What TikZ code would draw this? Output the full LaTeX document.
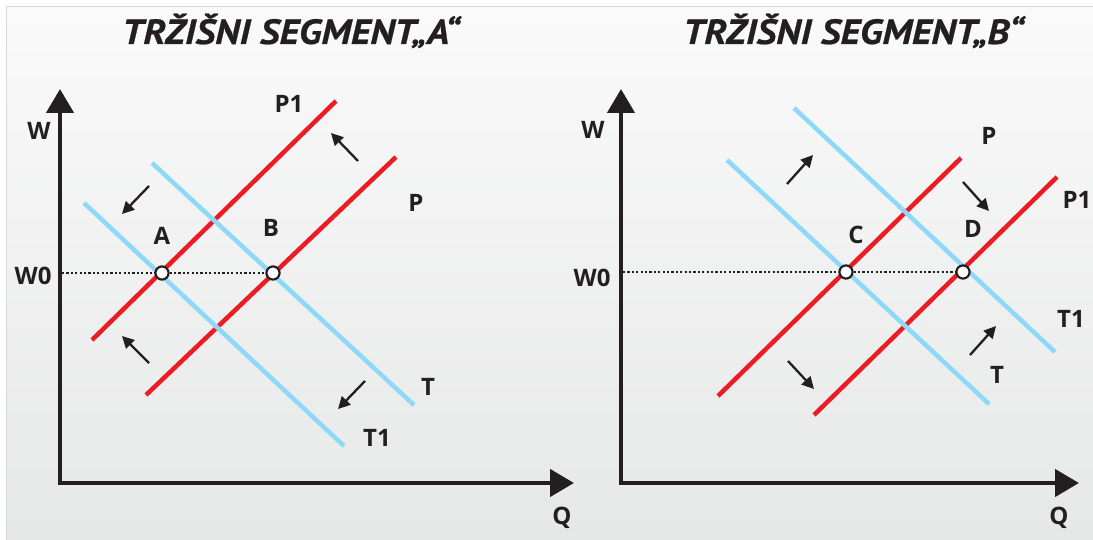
\documentclass[tikz,border=0pt]{standalone}
\usepackage{fontspec}
\setmainfont{PT Sans}
\newfontfamily\labelfont{Open Sans}
\newfontfamily\headfont[FakeBold=0.6]{PT Sans}
\usetikzlibrary{arrows.meta}
\definecolor{supply}{HTML}{ED1C24}
\definecolor{demand}{HTML}{8ED8F8}
\definecolor{ink}{HTML}{231F20}
\definecolor{bgtop}{HTML}{FAFAFA}
\definecolor{bgbot}{HTML}{E6E7E7}
\definecolor{frame}{HTML}{D8D8D8}

\begin{document}
\begin{tikzpicture}[x=1pt,y=-1pt,
  axis/.style={draw=ink, line width=4.5pt, line join=miter,
    {Triangle[length=24pt,width=27pt]}-{Triangle[length=24pt,width=27pt]}},
  redline/.style={draw=supply, line width=4.5pt},
  blueline/.style={draw=demand, line width=4.5pt},
  shiftarrow/.style={draw=ink, line width=2.3pt, -{Triangle[length=12pt,width=12pt]}},
  level/.style={draw=ink, line width=2.5pt, dash pattern=on 2.2pt off 2.2pt},
  eq/.style={circle, draw=ink, fill=white, line width=2pt, minimum size=13pt, inner sep=0pt},
  lbl/.style={font=\labelfont\bfseries\fontsize{24}{24}\selectfont, text=ink, inner sep=0pt},
  heading/.style={font=\headfont\bfseries\itshape\fontsize{35}{35}\selectfont, text=ink, inner sep=0pt, anchor=base west}
]
\useasboundingbox (0,0) rectangle (1093,540);
% panel background
\fill[white] (0,0) rectangle (1093,540);
\shade[top color=bgtop, bottom color=bgbot] (6,7) rectangle (1093,540);
\draw[frame, line width=1pt] (6,540) -- (6,7) -- (1093,7);

% titles
\node[heading] (titleA) at (122,44) {\scalebox{1.1}[1]{TRŽIŠNI SEGMENT„A“}};
\node[heading] (titleB) at (683,44) {\scalebox{1.1}[1]{TRŽIŠNI SEGMENT„B“}};

% ---------- market segment A ----------
\coordinate (aW) at (60,89);
\coordinate (aO) at (60,483);
\coordinate (aQ) at (574,483);
\draw[axis] (aW) -- (aO) -- (aQ);

\coordinate (P1a) at (92,340);  \coordinate (P1b) at (336,101);
\coordinate (Pa)  at (146,395); \coordinate (Pb)  at (396,157);
\coordinate (Ta)  at (152,163); \coordinate (Tb)  at (414,405);
\coordinate (T1a) at (84,203);  \coordinate (T1b) at (344,446);
\draw[redline] (P1a) -- (P1b);
\draw[redline] (Pa) -- (Pb);
\draw[blueline] (Ta) -- (Tb);
\draw[blueline] (T1a) -- (T1b);

\coordinate (aW0) at (62,273);
\node[eq] (A) at (162,273) {};
\node[eq] (B) at (273,273) {};
\draw[level] (aW0) -- (A) -- (B);
\node[eq] at (A) {};
\node[eq] at (B) {};

% shift arrows
\coordinate (a1s) at (149,186); \coordinate (a1e) at (122,214);
\coordinate (a2s) at (358,161); \coordinate (a2e) at (331,133);
\coordinate (a3s) at (149,363); \coordinate (a3e) at (122,336);
\coordinate (a4s) at (365,381); \coordinate (a4e) at (338,409);
\draw[shiftarrow] (a1s) -- (a1e);
\draw[shiftarrow] (a2s) -- (a2e);
\draw[shiftarrow] (a3s) -- (a3e);
\draw[shiftarrow] (a4s) -- (a4e);

\node[lbl] (lWa)  at (39,131)  {W};
\node[lbl] (lW0a) at (33,276)  {W0};
\node[lbl] (lA)   at (162,236) {A};
\node[lbl] (lB)   at (271,228) {B};
\node[lbl] (lP1a) at (289,104) {P1};
\node[lbl] (lPa)  at (416,203) {P};
\node[lbl] (lTa)  at (428,387) {T};
\node[lbl] (lT1a) at (377,438) {T1};
\node[lbl] (lQa)  at (562,518) {Q};

% ---------- market segment B ----------
\coordinate (bW) at (621,89);
\coordinate (bO) at (621,483);
\coordinate (bQ) at (1079,483);
\draw[axis] (bW) -- (bO) -- (bQ);

\coordinate (Pc)  at (718,396);  \coordinate (Pd)  at (961,158);
\coordinate (P1c) at (814,415);  \coordinate (P1d) at (1057,177);
\coordinate (Tc)  at (727,160);  \coordinate (Td)  at (989,404);
\coordinate (T1c) at (794,108);  \coordinate (T1d) at (1055,352);
\draw[redline] (Pc) -- (Pd);
\draw[redline] (P1c) -- (P1d);
\draw[blueline] (Tc) -- (Td);
\draw[blueline] (T1c) -- (T1d);

\coordinate (bW0) at (623,272);
\node[eq] (C) at (846,272) {};
\node[eq] (D) at (963,272) {};
\draw[level] (bW0) -- (C) -- (D);
\node[eq] at (C) {};
\node[eq] at (D) {};

\coordinate (b1s) at (787,184); \coordinate (b1e) at (813,155);
\coordinate (b2s) at (963,182); \coordinate (b2e) at (989,211);
\coordinate (b3s) at (788,361); \coordinate (b3e) at (814,389);
\coordinate (b4s) at (970,355); \coordinate (b4e) at (996,326);
\draw[shiftarrow] (b1s) -- (b1e);
\draw[shiftarrow] (b2s) -- (b2e);
\draw[shiftarrow] (b3s) -- (b3e);
\draw[shiftarrow] (b4s) -- (b4e);

\node[lbl] (lWb)  at (593,130)  {W};
\node[lbl] (lW0b) at (592,278)  {W0};
\node[lbl] (lC)   at (856,235)  {C};
\node[lbl] (lD)   at (973,229)  {D};
\node[lbl] (lPb)  at (989,136)  {P};
\node[lbl] (lP1b) at (1077,200) {P1};
\node[lbl] (lTb)  at (997,375)  {T};
\node[lbl] (lT1b) at (1071,319) {T1};
\node[lbl] (lQb)  at (1059,518) {Q};
\end{tikzpicture}
\end{document}
